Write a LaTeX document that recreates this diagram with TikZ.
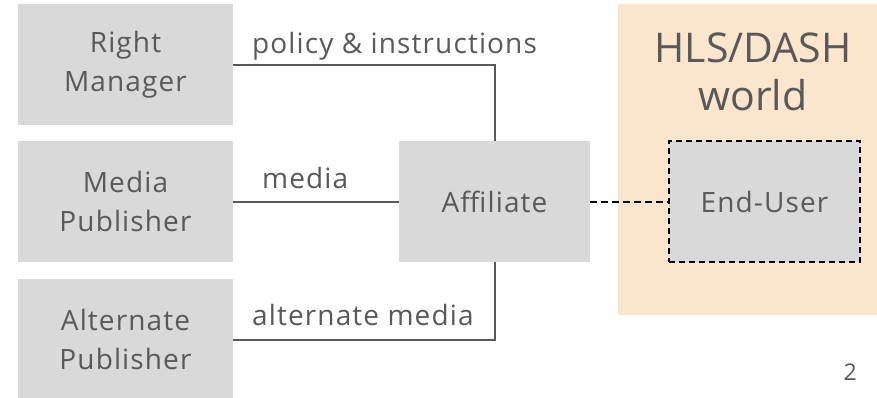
\documentclass[tikz,border=0pt]{standalone}
\usepackage{fontspec}
\setmainfont{Open Sans}
\newfontfamily\spacedfont[LetterSpace=4]{Open Sans}
\definecolor{boxgray}{HTML}{D9D9D9}
\definecolor{txtgray}{HTML}{595959}
\definecolor{peach}{HTML}{FCE5CD}
\tikzset{
  block/.style = {fill = boxgray, text = txtgray, align = center, inner sep = 0pt,
                  minimum height = 121pt, font = \spacedfont\fontsize{28}{39}\selectfont},
  link/.style = {draw = txtgray, line width = 2pt},
  lbl/.style = {text = txtgray, inner sep = 0pt, font = \spacedfont\fontsize{28}{39}\selectfont},
}
\begin{document}
\begin{tikzpicture}[x = 1pt, y = -1pt]
        \useasboundingbox[fill = white] (0, 0) rectangle (877, 397);
        \fill[peach] (618, 4) rectangle (890, 315);
        \node[text = txtgray, align = center, font = \fontsize{41}{48}\selectfont] (world) at (753, 72) {HLS/DASH\\world};

        \foreach \n/\t/\y in {rm/{Right\\Manager}/64.5, mp/{Media\\Publisher}/201.5, ap/{Alternate\\Publisher}/339.5}
          \node[block, minimum width = 215pt] (\n) at (125.5, \y) {\t};
        \node[block, minimum width = 191pt] (aff) at (494.5, 201.5) {Affiliate};
        \node[block, minimum width = 191pt, draw = black, line width = 2pt, dash pattern = on 6pt off 4pt] (eu) at (764.5, 201.5) {End-User};

        \draw[link] (rm.east) -| (aff.north);
        \draw[link] (mp.east) -- (aff.west);
        \draw[link] (ap.east) -| (aff.south);
        \draw[line width = 2pt, dash pattern = on 7pt off 4pt] (aff.east) -- (eu.west);

        \node[lbl, anchor = base west] (pol) at (252, 53) {policy \& instructions};
        \node[lbl, anchor = base west] (med) at (262, 188) {media};
        \node[lbl, anchor = base west] (alt) at (252, 325) {alternate media};
        \node[lbl, anchor = base east, font = \fontsize{23}{28}\selectfont] (page) at (857, 380) {2};
      \end{tikzpicture}
\end{document}
